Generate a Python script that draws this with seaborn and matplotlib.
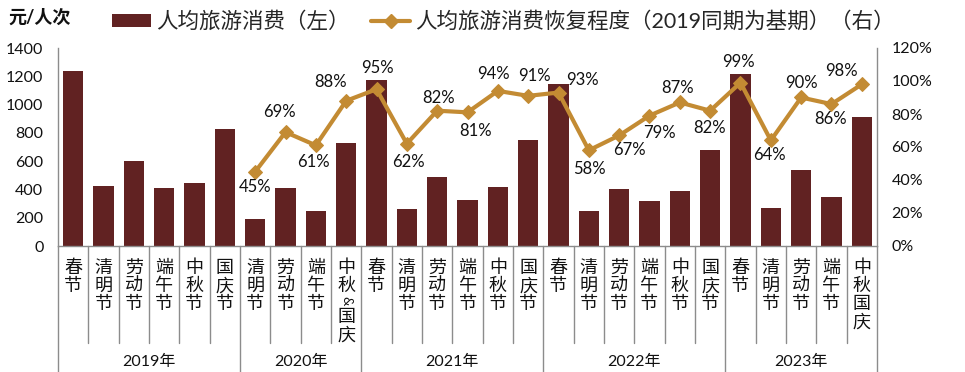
import numpy as np
import pandas as pd
import matplotlib
matplotlib.use("Agg")
import matplotlib.pyplot as plt
import seaborn as sns
from matplotlib.transforms import blended_transform_factory
from matplotlib.lines import Line2D
from matplotlib.patches import Patch

# ---------------- data ----------------
years = ["2019年", "2020年", "2021年", "2022年", "2023年"]
holidays_2019 = ["春节", "清明节", "劳动节", "端午节", "中秋节", "国庆节"]
holidays_2020 = ["清明节", "劳动节", "端午节", "中秋&国庆"]
holidays_2021 = ["春节", "清明节", "劳动节", "端午节", "中秋节", "国庆节"]
holidays_2022 = ["春节", "清明节", "劳动节", "端午节", "中秋节", "国庆节"]
holidays_2023 = ["春节", "清明节", "劳动节", "端午节", "中秋国庆"]

spend_2019 = [1240, 425, 600, 410, 447, 828]
spend_2020 = [192, 410, 248, 728]
spend_2021 = [1175, 262, 488, 325, 418, 748]
spend_2022 = [1145, 248, 403, 318, 389, 680]
spend_2023 = [1217, 268, 537, 347, 912]

recovery_2019 = [np.nan] * 6
recovery_2020 = [45, 69, 61, 88]
recovery_2021 = [95, 62, 82, 81, 94, 91]
recovery_2022 = [93, 58, 67, 79, 87, 82]
recovery_2023 = [99, 64, 90, 86, 98]

left_ticks = [0, 200, 400, 600, 800, 1000, 1200, 1400]
right_ticks = [0, 20, 40, 60, 80, 100, 120]

bar_label = "人均旅游消费（左）"
line_label = "人均旅游消费恢复程度（2019同期为基期）（右）"
unit_label = "元/人次"

# label offsets (pixels) for percentage annotations: (dx, dy), dy up positive
label_offsets = [(0, -15), (-6, 20), (-2, -17), (-16, 19),
                 (1, 21), (2, -18), (1, 13), (8, -19), (-4, 17), (6, 20),
                 (24, 13), (1, -19), (10, -15), (10, -17), (-2, 14), (-1, -17),
                 (-2, 21), (-1, -15), (0, 15), (-1, -15), (-20, 13)]

# ---------------- frame ----------------
groups = [holidays_2019, holidays_2020, holidays_2021, holidays_2022, holidays_2023]
spends = [spend_2019, spend_2020, spend_2021, spend_2022, spend_2023]
recs = [recovery_2019, recovery_2020, recovery_2021, recovery_2022, recovery_2023]
rows = []
for y, hs, ss, rs in zip(years, groups, spends, recs):
    for h, s, r in zip(hs, ss, rs):
        rows.append({"year": y, "holiday": h, "spend": s, "recovery": r})
df = pd.DataFrame(rows)
df["idx"] = np.arange(len(df))

BAR = "#612222"
LINE = "#C38B33"
GRAY = "#8c8c8c"

sns.set_theme(style="white")
plt.rcParams["font.family"] = ["Lato", "Noto Sans CJK SC", "DejaVu Sans"]

W, H = 965, 372
fig = plt.figure(figsize=(W / 100, H / 100), dpi=100)
ax_l, ax_r, ax_t, ax_b = 58, 877, 48, 246
ax = fig.add_axes([ax_l / W, 1 - ax_b / H, (ax_r - ax_l) / W, (ax_b - ax_t) / H])

sns.barplot(data=df, x="idx", y="spend", color=BAR, saturation=1, width=0.68,
            edgecolor="none", linewidth=0, ax=ax)
n = len(df)
ax.set_xlim(-0.5, n - 0.5)
ax.set_ylim(0, 1400)
ax.set_yticks(left_ticks)
ax.set_yticklabels([str(v) for v in left_ticks])
ax.set_xticks([])
ax.set_xlabel("")
ax.set_ylabel("")

ax2 = ax.twinx()
dl = df.dropna(subset=["recovery"])
sns.lineplot(data=dl, x="idx", y="recovery", color=LINE, lw=3, marker="D",
             markersize=7, markeredgecolor=LINE, ax=ax2)
ax2.set_ylim(0, 120)
ax2.set_yticks(right_ticks)
ax2.set_yticklabels([f"{v}%" for v in right_ticks])
ax2.set_xlim(-0.5, n - 0.5)
ax2.set_xlabel("")
ax2.set_ylabel("")

for a in (ax, ax2):
    for s in a.spines.values():
        s.set_color(GRAY)
        s.set_linewidth(1)
    a.spines["top"].set_visible(False)
    a.tick_params(axis="y", length=0, pad=10.5, labelsize=11.5, labelcolor="#111111")
ax.spines["right"].set_visible(False)
ax2.spines["left"].set_visible(False)
ax2.spines["bottom"].set_visible(False)

# percentage annotations
for (i, r), (dx, dy) in zip(dl[["idx", "recovery"]].itertuples(index=False), label_offsets):
    ax2.annotate(f"{int(r)}%", (i, r), xytext=(dx, dy), textcoords="offset pixels",
                 ha="center", va="center", fontsize=12, color="#111111")

# category labels (vertical stacked characters) and separators
axh = ax_b - ax_t
tr = blended_transform_factory(ax.transData, ax.transAxes)
for i, h in zip(df["idx"], df["holiday"]):
    ypx = 22
    for ch in h:
        if ch == "&":
            ypx_c = ypx - 3
            ax.text(i, -ypx_c / axh, ch, transform=tr, ha="center", va="center",
                    rotation=-90, fontsize=9.5, color="#111111")
            ypx += 13
        else:
            ax.text(i, -ypx / axh, ch, transform=tr, ha="center", va="center",
                    fontsize=13, color="#111111")
            ypx += 18

boundaries = [-0.5]
counts = [len(g) for g in groups]
acc = -0.5
for c in counts:
    acc += c
    boundaries.append(acc)
for k in range(n + 1):
    xk = k - 0.5
    if any(abs(xk - b) < 1e-9 for b in boundaries):
        y1 = -(H - ax_b) / axh
    else:
        y1 = -97 / axh
    ax.add_line(Line2D([xk, xk], [0, y1], transform=tr, color=GRAY, lw=1, clip_on=False))

for y, b0, b1 in zip(years, boundaries[:-1], boundaries[1:]):
    ax.text((b0 + b1) / 2, -(H - 3 - ax_b) / axh, y, transform=tr, ha="center",
            va="bottom", fontsize=11.5, color="#111111")

# legend and unit
handles = [Patch(facecolor=BAR, edgecolor="none"),
           Line2D([], [], color=LINE, lw=3, marker="D", markersize=7)]
fig.legend(handles, [bar_label, line_label], loc="center left",
           bbox_to_anchor=(112 / W, 1 - 22 / H), ncol=2, frameon=False,
           fontsize=15.5, handlelength=1.8, handleheight=0.55, handletextpad=0.25,
           columnspacing=1.0, borderpad=0, borderaxespad=0)
fig.text(8 / W, 1 - 17 / H, unit_label, ha="left", va="center", fontsize=13,
         fontweight="bold", color="#111111")

fig.savefig("out.png", dpi=100)
